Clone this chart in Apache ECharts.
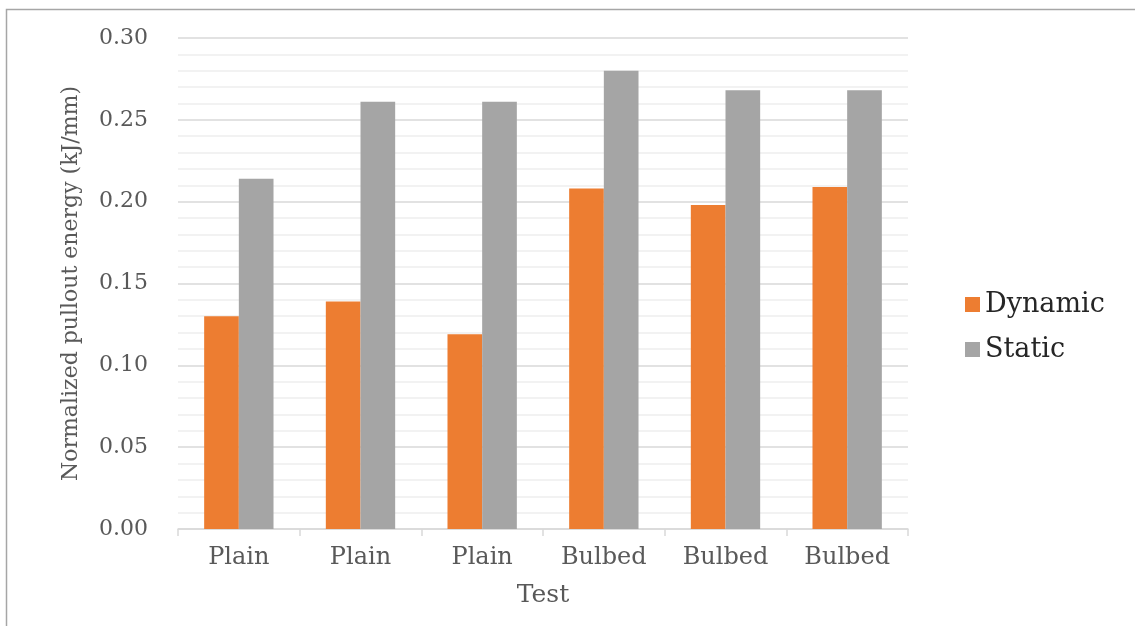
<!DOCTYPE html>
<html>
<head>
<meta charset="utf-8">
<script src="https://cdn.jsdelivr.net/npm/echarts@6/dist/echarts.min.js"></script>
<style>
  html, body { margin: 0; padding: 0; background: #fff; }
  #chart { width: 1135px; height: 626px; }
</style>
</head>
<body>
<div id="chart"></div>
<script>
// data
const tests = ['Plain', 'Plain', 'Plain', 'Bulbed', 'Bulbed', 'Bulbed'];
const dynamicEnergy = [0.130, 0.139, 0.119, 0.208, 0.198, 0.209];
const staticEnergy = [0.214, 0.261, 0.261, 0.280, 0.268, 0.268];

const FONT = 'DejaVu Serif';
const TXT = '#595959';

const chart = echarts.init(document.getElementById('chart'));

chart.setOption({
  backgroundColor: '#fff',
  animation: false,
  graphic: [{
    type: 'rect',
    shape: { x: 6.5, y: 9.5, width: 1300, height: 800 },
    style: { fill: 'none', stroke: '#a6a6a6', lineWidth: 1.5 },
    z: -1
  }],
  grid: { left: 178, right: 227, top: 38, bottom: 97 },
  legend: {
    orient: 'vertical',
    left: 960,
    top: 286,
    itemWidth: 15,
    itemHeight: 15,
    itemGap: 18,
    icon: 'rect',
    textStyle: { fontFamily: FONT, fontSize: 27, color: '#262626' },
    data: ['Dynamic', 'Static']
  },
  xAxis: {
    type: 'category',
    data: tests,
    name: 'Test',
    nameLocation: 'middle',
    nameGap: 54,
    nameTextStyle: { fontFamily: FONT, fontSize: 25, color: TXT },
    axisLine: { lineStyle: { color: '#d9d9d9', width: 1.5 } },
    axisTick: { show: true, alignWithLabel: false, length: 7, lineStyle: { color: '#d9d9d9', width: 1.5 } },
    axisLabel: { fontFamily: FONT, fontSize: 24, color: TXT, margin: 17 }
  },
  yAxis: {
    type: 'value',
    min: 0,
    max: 0.3,
    interval: 0.05,
    name: 'Normalized pullout energy (kJ/mm)',
    nameLocation: 'middle',
    nameGap: 96,
    nameTextStyle: { fontFamily: FONT, fontSize: 22, color: TXT },
    axisLine: { show: false },
    axisTick: { show: false },
    axisLabel: {
      fontFamily: FONT, fontSize: 22, color: TXT, margin: 30,
      formatter: v => v.toFixed(2)
    },
    splitLine: { lineStyle: { color: '#d9d9d9', width: 1.5 } },
    minorTick: { show: false, splitNumber: 5 },
    minorSplitLine: { show: true, lineStyle: { color: '#eeeeee', width: 1.5 } }
  },
  series: [
    {
      name: 'Dynamic',
      type: 'bar',
      data: dynamicEnergy,
      barGap: '0%',
      barCategoryGap: '43%',
      itemStyle: { color: '#ED7D31' }
    },
    {
      name: 'Static',
      type: 'bar',
      data: staticEnergy,
      barGap: '0%',
      barCategoryGap: '43%',
      itemStyle: { color: '#A5A5A5' }
    }
  ]
});
</script>
</body>
</html>
